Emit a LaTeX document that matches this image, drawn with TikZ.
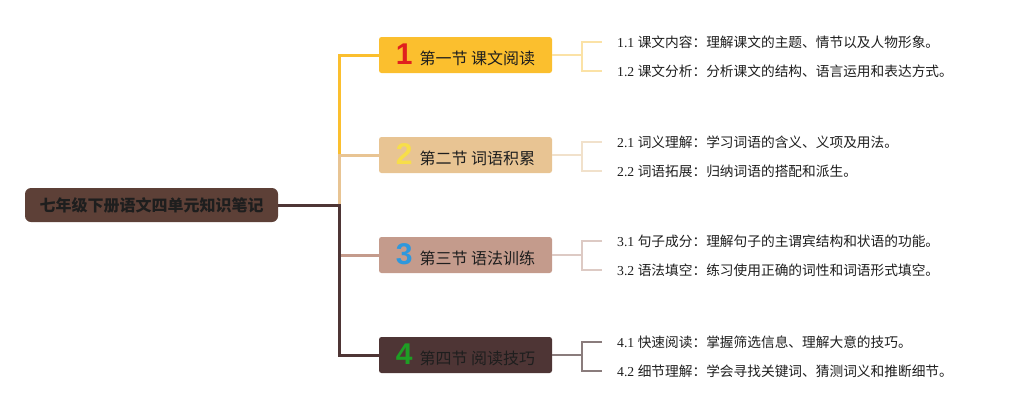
\documentclass[tikz,border=0pt]{standalone}
\usepackage{fontspec}
\setmainfont{Liberation Serif}
\newfontfamily\cjk{Noto Sans CJK SC}
\newfontfamily\numf{Liberation Sans}
\definecolor{rootc}{HTML}{5D4037}
\definecolor{sa}{HTML}{FBBF2E}
\definecolor{sb}{HTML}{E8C493}
\definecolor{sc}{HTML}{C49B8C}
\definecolor{sd}{HTML}{4E3535}
\definecolor{la}{HTML}{FBE2A6}
\definecolor{lb}{HTML}{F1E1CB}
\definecolor{lc}{HTML}{DDCAC4}
\definecolor{ld}{HTML}{8A7C7C}
\definecolor{na}{HTML}{E0201E}
\definecolor{nb}{HTML}{F7DE4A}
\definecolor{nc}{HTML}{2E98DD}
\definecolor{nd}{HTML}{1E9E24}
\definecolor{txt}{HTML}{1E1E1E}
\begin{document}
\begin{tikzpicture}[x=1pt,y=-1pt,
  rootbox/.style={fill=rootc,rounded corners=6pt,minimum width=253pt,minimum height=34pt,inner sep=0pt,
    font=\cjk\bfseries\fontsize{16}{16}\selectfont,text=txt},
  secbox/.style={rounded corners=2.5pt,minimum width=173pt,minimum height=36pt,inner sep=0pt,text=txt},
  leaf/.style={anchor=west,inner sep=0pt,font=\fontsize{13.7}{14}\selectfont,text=txt},
  branch/.style={line width=3pt},
  twig/.style={line width=2pt}]
\useasboundingbox (0,0) rectangle (1020,410);
\newcommand{\sectxt}[3]{{\numf\bfseries\fontsize{30}{30}\selectfont\textcolor{#1}{#2}}\hspace{7pt}{\cjk\fontsize{16}{16}\selectfont #3}}
\node[rootbox] (root) at (151.5,205) {七年级下册语文四单元知识笔记};
\coordinate (tk) at (339,205);
\node[secbox,fill=sa] (s1) at (465.5,55) {\sectxt{na}{1}{第一节 课文阅读}};
\node[secbox,fill=sb] (s2) at (465.5,155) {\sectxt{nb}{2}{第二节 词语积累}};
\node[secbox,fill=sc] (s3) at (465.5,255) {\sectxt{nc}{3}{第三节 语法训练}};
\node[secbox,fill=sd] (s4) at (465.5,355) {\sectxt{nd}{4}{第四节 阅读技巧}};
\draw[branch,sa] (root.east) -- (tk) |- (s1.west);
\draw[branch,sb] (root.east) -- (tk) |- (s2.west);
\draw[branch,sc] (root.east) -- (tk) |- (s3.west);
\draw[branch,sd] (root.east) -- (tk) |- (s4.west);
% leaves
\node[leaf] (l11) at (617,42) {1.1 {\cjk 课文内容：理解课文的主题、情节以及人物形象。}};
\node[leaf] (l12) at (617,71) {1.2 {\cjk 课文分析：分析课文的结构、语言运用和表达方式。}};
\node[leaf] (l21) at (617,142) {2.1 {\cjk 词义理解：学习词语的含义、义项及用法。}};
\node[leaf] (l22) at (617,171) {2.2 {\cjk 词语拓展：归纳词语的搭配和派生。}};
\node[leaf] (l31) at (617,241) {3.1 {\cjk 句子成分：理解句子的主谓宾结构和状语的功能。}};
\node[leaf] (l32) at (617,270) {3.2 {\cjk 语法填空：练习使用正确的词性和词语形式填空。}};
\node[leaf] (l41) at (617,342) {4.1 {\cjk 快速阅读：掌握筛选信息、理解大意的技巧。}};
\node[leaf] (l42) at (617,371) {4.2 {\cjk 细节理解：学会寻找关键词、猜测词义和推断细节。}};
\foreach \s/\c/\a/\b in {1/la/l11/l12, 2/lb/l21/l22, 3/lc/l31/l32, 4/ld/l41/l42}{
  \coordinate (j\s) at ([xshift=30pt]s\s.east);
  \draw[twig,\c] (s\s.east) -- (j\s);
  \draw[twig,\c] ([xshift=-15pt]\a.west) -| (j\s) |- ([xshift=-15pt]\b.west);
}
\end{tikzpicture}
\end{document}
